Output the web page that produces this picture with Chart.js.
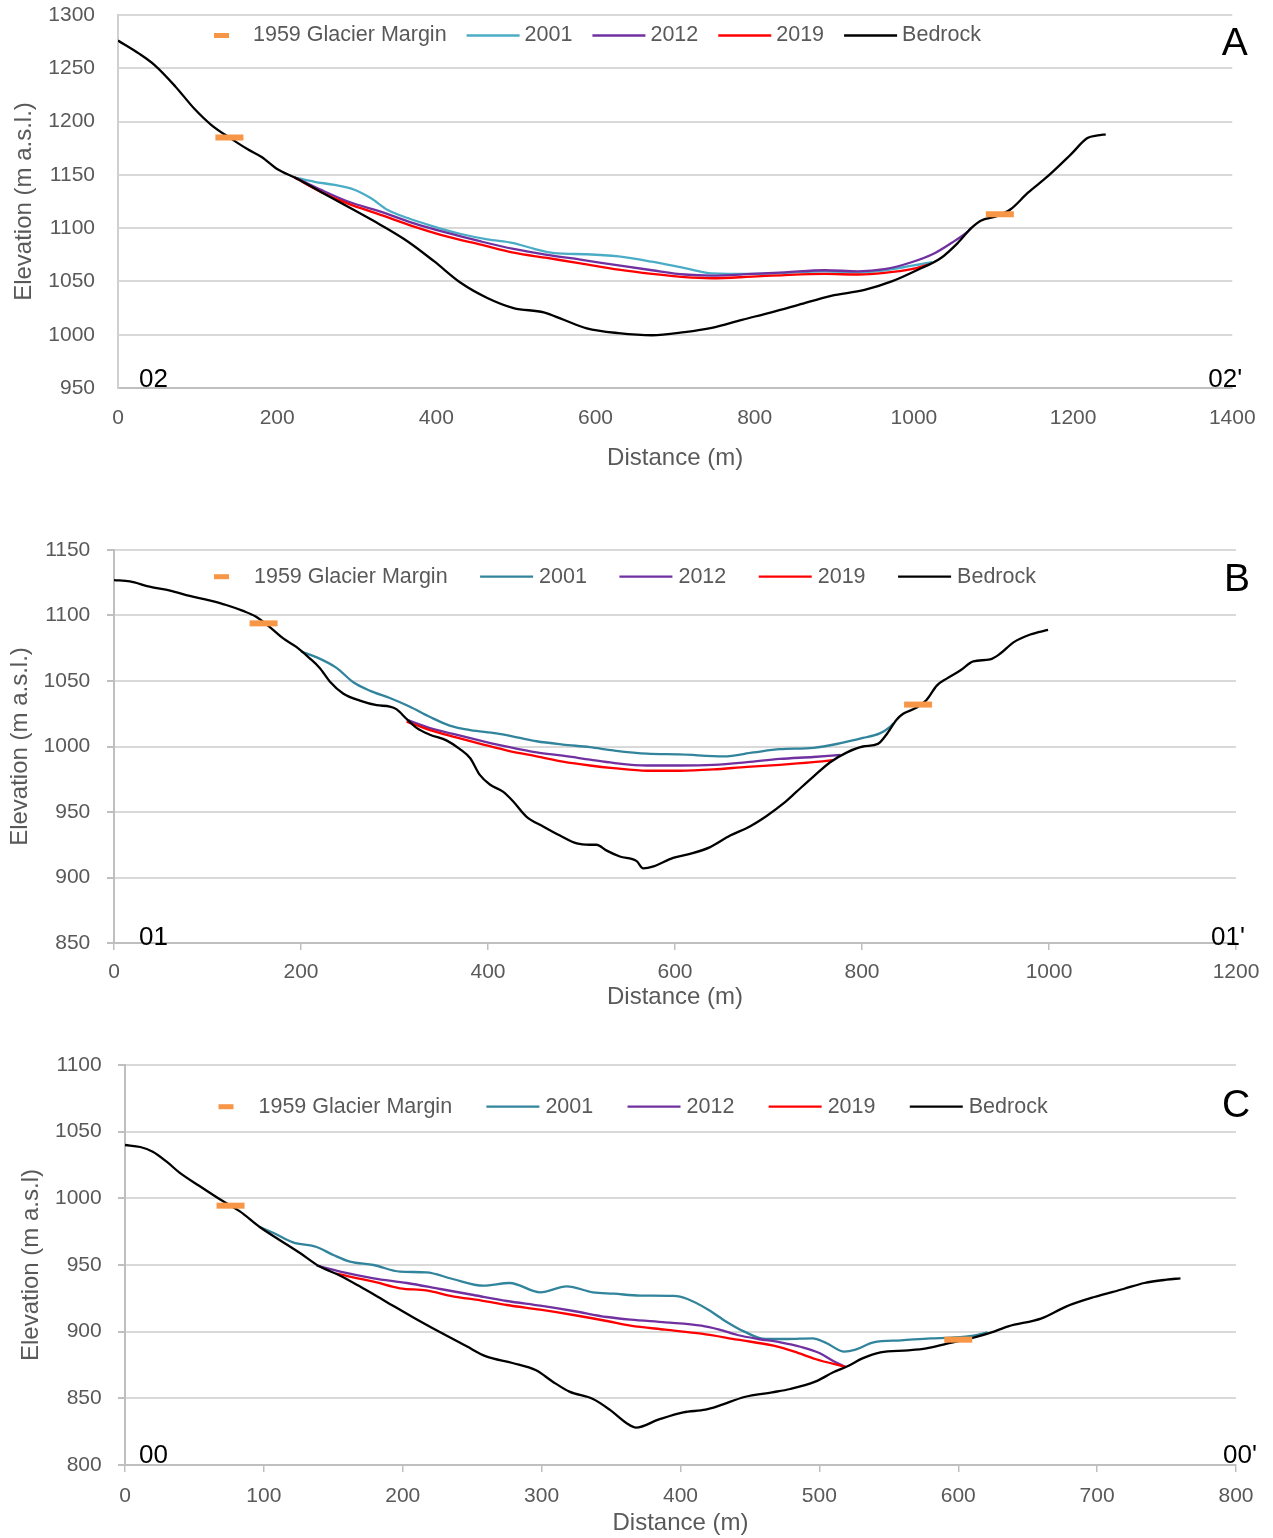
<!DOCTYPE html>
<html>
<head>
<meta charset="utf-8">
<title>Glacier cross-sections 00–02</title>
<script src="https://cdn.jsdelivr.net/npm/chart.js@4.4.1/dist/chart.umd.min.js"></script>
<style>
  html, body { margin: 0; padding: 0; background: #ffffff; }
  #wrap { position: relative; width: 1273px; height: 1538px; overflow: hidden; }
  #wrap canvas { position: absolute; left: 0; }
</style>
</head>
<body>
<div id="wrap">
  <canvas id="chartA" width="1273" height="490" style="top:0px"></canvas>
  <canvas id="chartB" width="1273" height="520" style="top:505px"></canvas>
  <canvas id="chartC" width="1273" height="508" style="top:1030px"></canvas>
</div>
<script>
// ---------- Profile 02 – 02' (panel A): [distance m, elevation m a.s.l.] ----------
const marginA = [[140, 1185], [1108, 1113]];
const surf2001A = [[222,1147.5],[247,1143.5],[272,1140.5],[297,1136],[318,1128],[339,1117],[364,1109.5],[397,1101.5],[431,1094.5],[464,1089.5],[497,1086],[523,1080.5],[548,1076.5],[589,1075.5],[629,1073.5],[671,1068.5],[712,1062.5],[746,1057.5],[796,1057],[838,1058],[888,1059.5],[930,1058.5],[963,1060.5],[996,1064.5],[1023,1068]];
const surf2012A = [[222,1147.5],[230,1145],[255,1136],[289,1125],[330,1115.5],[372,1104.5],[414,1095.5],[456,1087.5],[497,1080.5],[539,1075],[581,1070.5],[629,1065],[671,1060.5],[712,1056.5],[746,1055.5],[796,1057],[838,1058.5],[888,1060.5],[930,1059.5],[963,1061.5],[997,1068],[1026,1076.5],[1047,1086],[1068,1097],[1072,1100]];
const surf2019A = [[222,1147.5],[255,1134],[289,1123],[330,1112.5],[372,1101.5],[414,1092],[456,1084.5],[497,1077],[539,1072],[581,1067],[629,1061],[671,1057],[712,1054],[746,1053],[796,1054.5],[838,1056],[888,1057],[930,1056.5],[963,1058],[997,1061.5],[1019,1066]];
const bedrockA = [[0,1276],[26,1264],[46,1253],[72,1233],[96,1212],[117,1197],[142,1184],[163,1174],[180,1167],[201,1155],[222,1147.5],[255,1134],[289,1120],[330,1103],[364,1087.5],[397,1069],[431,1048.5],[464,1034.5],[497,1025],[535,1021],[560,1014],[589,1006],[629,1001.5],[671,999.5],[712,1002.5],[746,1006.5],[784,1014],[821,1021],[855,1028],[896,1036.5],[938,1042],[972,1050],[1005,1061],[1034,1072],[1055,1086],[1072,1100],[1084,1107],[1105,1111.5],[1122,1118],[1143,1133],[1168,1148.5],[1197,1169],[1218,1184.5],[1231,1187],[1241,1188]];

// ---------- Profile 01 – 01' (panel B) ----------
const marginB = [[160, 1094], [860, 1032]];
const surf2001B = [[200,1072.5],[217,1068],[238,1060],[256,1049],[274,1042.5],[295,1037],[316,1030.5],[338,1022.5],[359,1016],[381,1012.5],[409,1010],[431,1007],[452,1004],[480,1001.5],[509,999.5],[534,997],[570,994.5],[605,994],[652,992.5],[684,995.5],[712,998],[748,999],[777,1002.5],[801,1006.5],[819,1010],[830,1015],[834,1018]];
const surf2012B = [[313,1020.5],[338,1014],[366,1009],[395,1004],[423,999.5],[452,995.5],[480,993],[509,990],[534,987.5],[570,985.5],[605,985.5],[641,986],[677,988],[712,990.5],[748,992],[777,993.5]];
const surf2019B = [[313,1019],[338,1012.5],[366,1007],[395,1001.5],[423,996.5],[452,992.5],[480,988.5],[509,985.5],[534,983.5],[570,981.5],[605,981.5],[641,982.5],[677,984.5],[712,986],[748,988],[769,989.5]];
const bedrockB = [[0,1127],[17,1126],[38,1122],[60,1119],[81,1115],[102,1111.5],[120,1108],[138,1103.5],[152,1099],[167,1091],[181,1082.5],[195,1076],[209,1067.5],[220,1060],[231,1049.5],[245,1040.5],[263,1035],[281,1031.5],[295,1030.5],[302,1028.5],[313,1021],[324,1014],[338,1009],[356,1004.5],[370,998],[381,991],[391,978.5],[402,971],[416,965.5],[427,958],[441,946.5],[459,939],[477,932],[495,926],[509,925],[516,925],[527,920.5],[541,916],[559,912.5],[566,907],[577,908.5],[598,915],[616,918],[637,923],[659,932],[680,939],[698,947],[716,956.5],[730,965.5],[748,977],[766,988],[784,995.5],[801,1000],[817,1002],[826,1009],[837,1020.5],[844,1025],[858,1029.5],[869,1035.5],[880,1046.5],[891,1052],[905,1058],[919,1065],[937,1066.5],[948,1071],[962,1079.5],[980,1085.5],[999,1089]];

// ---------- Profile 00 – 00' (panel C) ----------
const marginC = [[76, 994.5], [600, 894]];
const surf2001C = [[97,978.5],[107,974],[121,967],[138,963.5],[150,957.5],[162,952.5],[179,950],[198,945],[217,944.5],[236,939.5],[258,934.5],[277,936.5],[299,929.5],[318,934],[337,929.5],[352,928.5],[371,927],[395,926.8],[405,924.5],[420,916.5],[433,907.5],[446,900],[461,894.5],[477,894.5],[495,895],[505,891.5],[518,885],[526,886.5],[539,892],[559,893.5],[580,895],[595,895.5],[611,897],[621,899.5]];
const surf2012C = [[138,949.5],[155,945],[179,940],[203,936.5],[227,932],[251,927.5],[275,923],[299,919.5],[323,915.5],[347,911],[364,909],[389,907],[415,904.5],[428,901.5],[441,897.5],[456,894.5],[472,892],[487,888.5],[500,884],[510,878],[519,873.5]];
const surf2019C = [[152,943.5],[179,937.5],[198,932.5],[217,931],[236,926.5],[256,923.5],[275,920],[299,916.5],[323,912.5],[347,908],[364,904.5],[389,901.5],[415,898.5],[441,894],[467,889.5],[482,885],[497,879.5],[519,873.5]];
const bedrockC = [[0,1040],[11,1038.5],[20,1035],[30,1027.5],[39,1019.5],[54,1009],[68,999.5],[83,990],[97,978.5],[111,969],[126,959],[140,949],[155,942],[169,934],[188,922.5],[207,911],[227,899.5],[246,889],[260,881.5],[279,876.5],[296,871],[308,862.5],[320,855],[337,849.5],[349,841.5],[361,831.5],[368,828],[384,834],[402,839.5],[418,841.5],[428,844.5],[446,851],[466,854.5],[479,857],[497,862.5],[510,869.5],[521,874.5],[531,880],[544,884.5],[564,886],[577,887.5],[590,890.5],[611,895.5],[624,899.5],[636,904],[660,910],[678,919],[698,926],[719,932],[734,936.5],[750,939],[760,940]];

// Series names shown in the legends
const seriesLabels = ['1959 Glacier Margin', '2001', '2012', '2019', 'Bedrock'];

// ---------- styling ----------
const FONT = "'Liberation Sans', Arial, sans-serif";
const TEXT = '#595959';
const GRID = '#D9D9D9';
const AXIS = '#BFBFBF';
const C_MARGIN = '#F79646';
const C_2012 = '#7030A0';
const C_2019 = '#FF0000';
const C_BED = '#000000';

const toXY = arr => arr.map(([x, y]) => ({ x, y }));

// Draws the in-plot legend, profile end labels and panel letter.
const panelText = {
  id: 'panelText',
  afterDraw(chart, args, o) {
    const { ctx, chartArea: a } = chart;
    ctx.save();
    const lg = o.legend;
    ctx.font = `${lg.size}px ${FONT}`;
    ctx.textBaseline = 'middle';
    ctx.textAlign = 'left';
    let x = a.left + lg.x;
    const y = a.top + lg.y;
    chart.data.datasets.forEach(ds => {
      ctx.strokeStyle = ds.borderColor;
      ctx.lineCap = 'butt';
      ctx.beginPath();
      if (ds.showLine === false) {
        ctx.lineWidth = lg.markH;
        ctx.moveTo(x + lg.box / 2 - lg.markW / 2, y);
        ctx.lineTo(x + lg.box / 2 + lg.markW / 2, y);
      } else {
        ctx.lineWidth = ds.borderWidth;
        ctx.moveTo(x, y);
        ctx.lineTo(x + lg.box, y);
      }
      ctx.stroke();
      x += lg.box + lg.textGap;
      ctx.fillStyle = TEXT;
      ctx.fillText(ds.label, x, y);
      x += ctx.measureText(ds.label).width + lg.itemGap;
    });

    ctx.fillStyle = '#000000';
    ctx.textBaseline = 'alphabetic';
    o.marks.forEach(m => {
      ctx.font = `${m.size}px ${FONT}`;
      ctx.textAlign = m.align;
      const mx = (m.edge === 'left' ? a.left : a.right) + m.dx;
      const my = (m.vEdge === 'top' ? a.top : a.bottom) + m.dy;
      ctx.fillText(m.text, mx, my);
    });
    ctx.restore();
  }
};

function makePanel(id, p) {
  const lineDs = (label, data, color) => ({
    label, data: toXY(data), borderColor: color, backgroundColor: color,
    borderWidth: 2.3, showLine: true, pointRadius: 0,
    cubicInterpolationMode: 'monotone', fill: false
  });
  const datasets = [
    {
      label: seriesLabels[0], data: toXY(p.margin), showLine: false,
      borderColor: C_MARGIN, backgroundColor: C_MARGIN,
      pointStyle: 'line', pointRadius: 14, pointBorderWidth: 6, pointHoverRadius: 14, order: 0
    },
    Object.assign(lineDs(seriesLabels[1], p.s2001, p.c2001), { order: 4 }),
    Object.assign(lineDs(seriesLabels[2], p.s2012, C_2012), { order: 3 }),
    Object.assign(lineDs(seriesLabels[3], p.s2019, C_2019), { order: 2 }),
    Object.assign(lineDs(seriesLabels[4], p.bed, C_BED), { order: 1 })
  ];

  return new Chart(document.getElementById(id), {
    type: 'scatter',
    data: { datasets },
    plugins: [panelText],
    options: {
      responsive: false,
      animation: false,
      events: [],
      layout: { autoPadding: false, padding: { top: p.padTop, right: p.padRight, left: 0, bottom: 0 } },
      plugins: {
        legend: { display: false },
        tooltip: { enabled: false },
        panelText: { legend: p.legend, marks: p.marks }
      },
      scales: {
        x: {
          type: 'linear', min: p.xMin, max: p.xMax,
          afterFit: s => { s.height = p.xAxisH; },
          grid: {
            display: p.xTicks, drawOnChartArea: false, drawTicks: p.xTicks,
            tickLength: 7, color: AXIS, tickColor: AXIS, lineWidth: 1.5
          },
          border: { display: true, color: AXIS, width: 2 },
          ticks: {
            stepSize: p.xStep, autoSkip: false, maxRotation: 0, padding: p.xTickPad,
            color: TEXT, font: { size: 21, family: FONT }, callback: v => String(v)
          },
          title: {
            display: true, text: 'Distance (m)', color: TEXT,
            font: { size: 24, family: FONT }, padding: { top: 0, bottom: p.xTitlePad }
          }
        },
        y: {
          type: 'linear', min: p.yMin, max: p.yMax,
          afterFit: s => { s.width = p.yAxisW; },
          grid: {
            color: GRID, lineWidth: 2, drawTicks: true, tickLength: p.yTickLen,
            tickColor: p.yTickColor
          },
          border: { display: true, color: p.yBorder, width: 2 },
          ticks: {
            stepSize: 50, autoSkip: false, padding: p.yTickPad,
            color: TEXT, font: { size: 21, family: FONT }, callback: v => String(v)
          },
          title: {
            display: true, text: p.yTitle, color: TEXT,
            font: { size: 24, family: FONT }, padding: { top: p.yTitlePad, bottom: 0 }
          }
        }
      }
    }
  });
}

makePanel('chartA', {
  margin: marginA, s2001: surf2001A, s2012: surf2012A, s2019: surf2019A, bed: bedrockA,
  c2001: '#4BACC6',
  xMin: 0, xMax: 1400, xStep: 200, yMin: 950, yMax: 1300,
  padTop: 15, padRight: 38, yAxisW: 118, xAxisH: 102,
  xTicks: false, xTickPad: 17.4,
  yTickLen: 23, yTickColor: 'rgba(0,0,0,0)', yTickPad: 0,
  xTitlePad: 17.6, yTitlePad: 9.6, yBorder: '#D0D0D0',
  yTitle: 'Elevation (m a.s.l.)',
  legend: { x: 77, y: 20.5, box: 53, textGap: 5, itemGap: 20, size: 21.5, markW: 15, markH: 5 },
  marks: [
    { text: '02', edge: 'left', dx: 21, vEdge: 'bottom', dy: -1, size: 26, align: 'left' },
    { text: "02'", edge: 'right', dx: 10, vEdge: 'bottom', dy: -1, size: 26, align: 'right' },
    { text: 'A', edge: 'right', dx: 2.5, vEdge: 'top', dy: 40, size: 39, align: 'center' }
  ]
});

makePanel('chartB', {
  margin: marginB, s2001: surf2001B, s2012: surf2012B, s2019: surf2019B, bed: bedrockB,
  c2001: '#31849B',
  xMin: 0, xMax: 1200, xStep: 200, yMin: 850, yMax: 1150,
  padTop: 45, padRight: 37, yAxisW: 114, xAxisH: 82,
  xTicks: true, xTickPad: 10.1,
  yTickLen: 7, yTickColor: AXIS, yTickPad: 16.7,
  xTitlePad: 13.6, yTitlePad: 6, yBorder: AXIS,
  yTitle: 'Elevation (m a.s.l.)',
  legend: { x: 81, y: 26.7, box: 53, textGap: 6, itemGap: 32.5, size: 21.5, markW: 15, markH: 5 },
  marks: [
    { text: '01', edge: 'left', dx: 25, vEdge: 'bottom', dy: 2, size: 26, align: 'left' },
    { text: "01'", edge: 'right', dx: 9, vEdge: 'bottom', dy: 2, size: 26, align: 'right' },
    { text: 'B', edge: 'right', dx: 1, vEdge: 'top', dy: 41, size: 39, align: 'center' }
  ]
});

makePanel('chartC', {
  margin: marginC, s2001: surf2001C, s2012: surf2012C, s2019: surf2019C, bed: bedrockC,
  c2001: '#31849B',
  xMin: 0, xMax: 800, xStep: 100, yMin: 800, yMax: 1100,
  padTop: 35, padRight: 37, yAxisW: 125, xAxisH: 73,
  xTicks: true, xTickPad: 11.4,
  yTickLen: 7, yTickColor: AXIS, yTickPad: 16.3,
  xTitlePad: 0.6, yTitlePad: 16.6, yBorder: AXIS,
  yTitle: 'Elevation (m a.s.l)',
  legend: { x: 74.5, y: 41.7, box: 53, textGap: 6, itemGap: 34.3, size: 21.5, markW: 15, markH: 5 },
  marks: [
    { text: '00', edge: 'left', dx: 14, vEdge: 'bottom', dy: -2, size: 26, align: 'left' },
    { text: "00'", edge: 'right', dx: 21, vEdge: 'bottom', dy: -2, size: 26, align: 'right' },
    { text: 'C', edge: 'right', dx: 0, vEdge: 'top', dy: 52, size: 39, align: 'center' }
  ]
});
</script>
</body>
</html>
